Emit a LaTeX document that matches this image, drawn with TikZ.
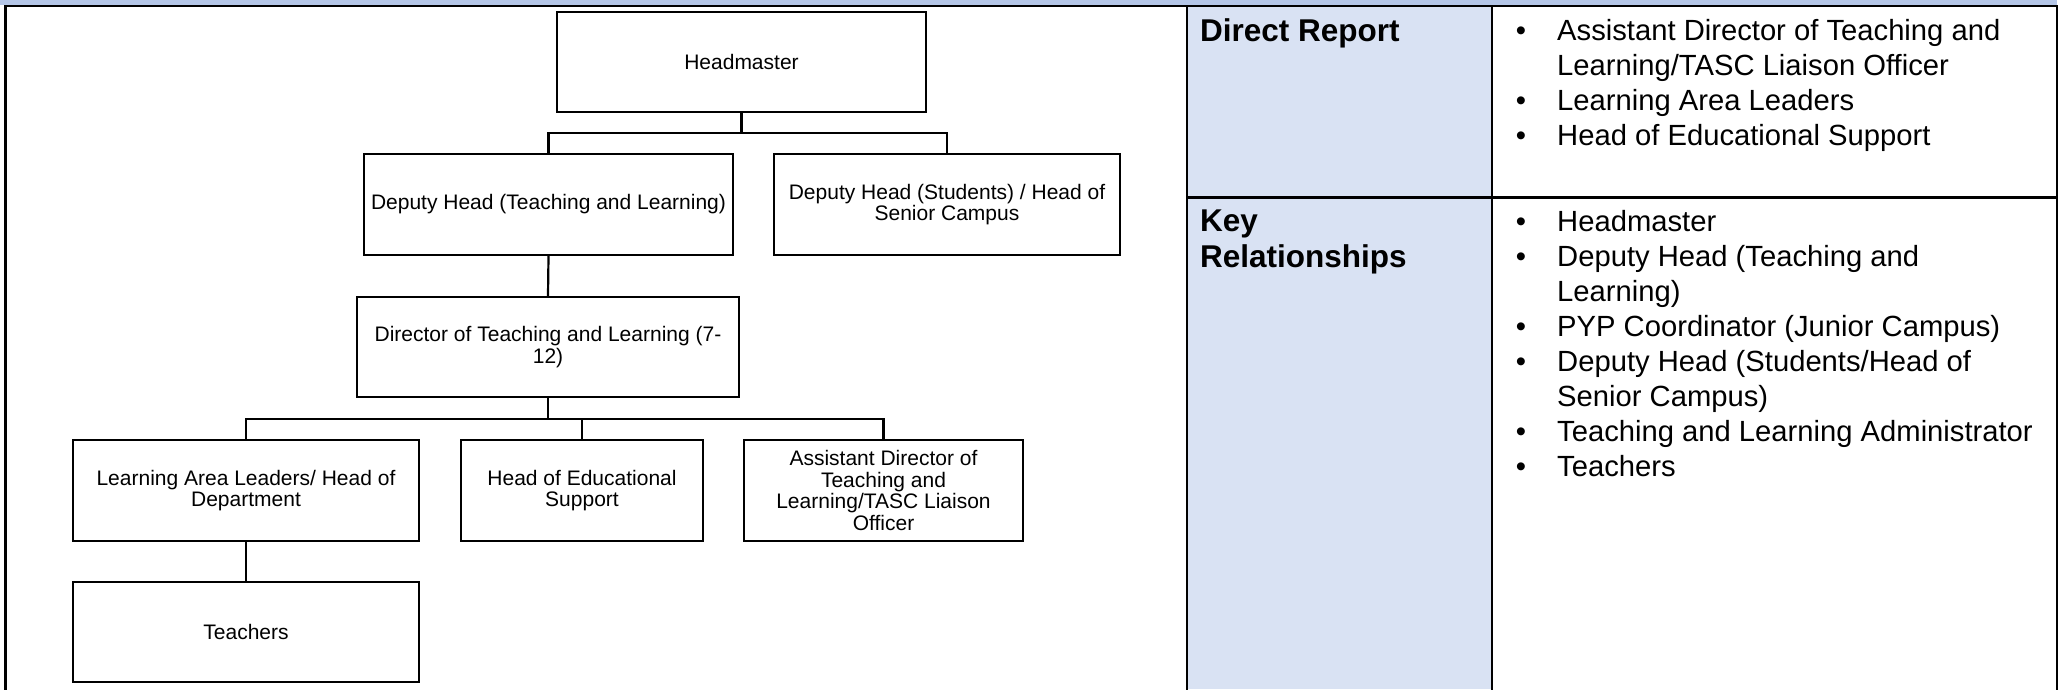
\documentclass[tikz,border=0pt]{standalone}
\usepackage{fontspec}
\setmainfont{Liberation Sans}
\definecolor{topblue}{RGB}{180,198,231}
\definecolor{labelblue}{RGB}{217,226,243}
\begin{document}
\begin{tikzpicture}[x=1pt,y=-1pt,
  box/.style={draw=black, line width=2.2pt, rectangle, inner sep=0pt, align=center,
    font=\fontsize{21}{21.7}\selectfont},
  conn/.style={draw=black, line width=2.2pt},
  rule/.style={draw=black, line width=2.6pt, line join=miter},
  inrule/.style={draw=black, line width=2.2pt},
  head/.style={anchor=base west, inner sep=0pt, font=\fontsize{31.5}{36}\selectfont\bfseries},
  item/.style={anchor=base west, inner sep=0pt, font=\fontsize{29.2}{35}\selectfont},
  dot/.style={anchor=base, inner sep=0pt, font=\fontsize{29.2}{35}\selectfont}]
\useasboundingbox (0,0) rectangle (2065,689);

% frame and table
\fill[topblue] (0,0) rectangle (2057,5);
\fill[labelblue] (1187,6) rectangle (1492,689);
\draw[rule] (5.5,690) -- (5.5,6) -- (2057,6) -- (2057,690);
\draw[inrule] (1187,6) -- (1187,690);
\draw[inrule] (1492,6) -- (1492,690);
\draw[inrule] (1187,197.5) -- (2057,197.5);

% org chart
\node[box, minimum width=369pt, minimum height=100pt] (hm)   at (741.5,62)   {Headmaster};
\node[box, minimum width=369pt, minimum height=101pt] (dtl)  at (548.5,204.5) {Deputy Head (Teaching and Learning)};
\node[box, minimum width=346pt, minimum height=101pt] (ds)   at (947,204.5)   {Deputy Head (Students) / Head of\\Senior Campus};
\node[box, minimum width=382pt, minimum height=100pt] (dir)  at (548,347)     {Director of Teaching and Learning (7-\\12)};
\node[box, minimum width=346pt, minimum height=101pt] (lal)  at (246,490.5)   {Learning Area Leaders/ Head of\\Department};
\node[box, minimum width=242pt, minimum height=101pt] (hes)  at (582,490.5)   {Head of Educational\\Support};
\node[box, minimum width=279pt, minimum height=101pt] (adtl) at (883.5,490.5) {Assistant Director of\\Teaching and\\Learning/TASC Liaison\\Officer};
\node[box, minimum width=346pt, minimum height=100pt] (tch)  at (246,632)     {Teachers};

\coordinate (bar1) at (0,133);
\coordinate (bar2) at (0,419);
\draw[conn] (hm.south) -- (hm.south |- bar1);
\draw[conn] (dtl.north) -- (dtl.north |- bar1) -- (ds.north |- bar1) -- (ds.north);
\draw[conn] (dtl.south) -- (dir.north);
\draw[conn] (dir.south) -- (dir.south |- bar2);
\draw[conn] (lal.north) -- (lal.north |- bar2) -- (adtl.north |- bar2) -- (adtl.north);
\draw[conn] (hes.north) -- (hes.north |- bar2);
\draw[conn] (lal.south) -- (tch.north);

% table text
\node[head] (hdr1) at (1200,41.7) {Direct Report};
\node[head] (hdr2a) at (1200,231.7) {Key};
\node[head] (hdr2b) at (1200,267.7) {Relationships};

\node[dot] (b1) at (1521,40.5) {•};
\node[item] (t1) at (1557,40.5) {Assistant Director of Teaching and};
\node[item] (t2) at (1557,75.5) {Learning/TASC Liaison Officer};
\node[dot] (b3) at (1521,110.5) {•};
\node[item] (t3) at (1557,110.5) {Learning Area Leaders};
\node[dot] (b4) at (1521,145.5) {•};
\node[item] (t4) at (1557,145.5) {Head of Educational Support};

\node[dot] (c1) at (1521,231.5) {•};
\node[item] (k1) at (1557,231.5) {Headmaster};
\node[dot] (c2) at (1521,266.5) {•};
\node[item] (k2) at (1557,266.5) {Deputy Head (Teaching and};
\node[item] (k3) at (1557,301.5) {Learning)};
\node[dot] (c4) at (1521,336.5) {•};
\node[item] (k4) at (1557,336.5) {PYP Coordinator (Junior Campus)};
\node[dot] (c5) at (1521,371.5) {•};
\node[item] (k5) at (1557,371.5) {Deputy Head (Students/Head of};
\node[item] (k6) at (1557,406.5) {Senior Campus)};
\node[dot] (c7) at (1521,441.5) {•};
\node[item] (k7) at (1557,441.5) {Teaching and Learning Administrator};
\node[dot] (c8) at (1521,476.5) {•};
\node[item] (k8) at (1557,476.5) {Teachers};
\end{tikzpicture}
\end{document}
